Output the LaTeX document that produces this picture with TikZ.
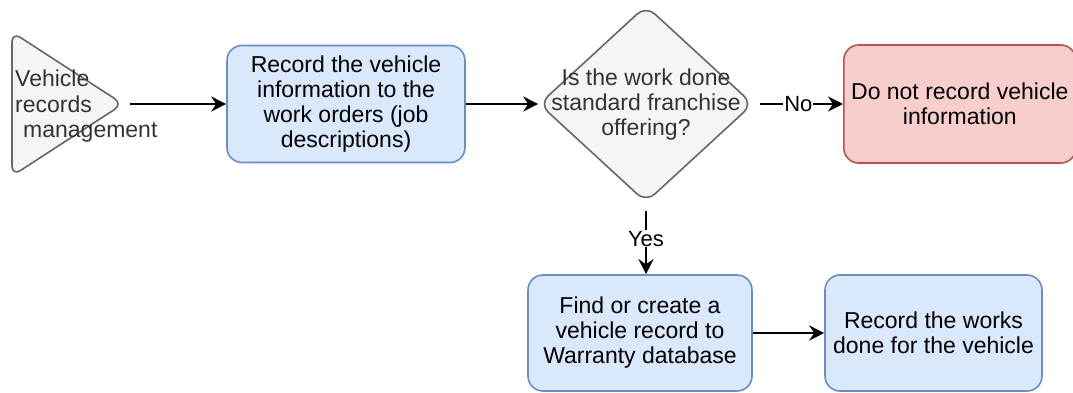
\documentclass[tikz,border=0pt]{standalone}
\usepackage{fontspec}
\setmainfont{Liberation Sans}
\usetikzlibrary{arrows.meta,shapes.geometric}

\definecolor{blueFill}{HTML}{DAE8FC}
\definecolor{blueLine}{HTML}{6C8EBF}
\definecolor{redFill}{HTML}{F8CECC}
\definecolor{redLine}{HTML}{B85450}
\definecolor{grayFill}{HTML}{F5F5F5}
\definecolor{grayLine}{HTML}{666666}
\definecolor{grayText}{HTML}{333333}

\tikzset{
  lbl/.style={font=\fontsize{23}{25}\selectfont, align=center, inner sep=0pt},
  procbox/.style={lbl, draw=blueLine, fill=blueFill, line width=1.6pt,
    rounded corners=15pt, minimum width=#1, minimum height=117pt},
  procbox/.default=238pt,
  stopbox/.style={lbl, draw=redLine, fill=redFill, line width=1.6pt,
    rounded corners=15pt, minimum width=232pt, minimum height=118pt},
  flow/.style={-{Stealth[length=15pt,width=15pt,inset=5pt]}, line width=2pt, black},
  edgelbl/.style={font=\fontsize{22}{25}\selectfont, fill=white, inner sep=1pt},
}

\begin{document}
\begin{tikzpicture}[x=1pt,y=-1pt]
  \useasboundingbox (0,0) rectangle (1073,392);

  % start marker: rounded triangle
  \draw[draw=grayLine, fill=grayFill, line width=1.6pt, rounded corners=10pt]
    (12,32) -- (123,104) -- (12,176) -- cycle;
  \coordinate (start) at (123,104);
  \node[lbl, text=grayText, anchor=west] (t1) at (15,78) {Vehicle};
  \node[lbl, text=grayText, anchor=west] (t2) at (15,104) {records};
  \node[lbl, text=grayText, anchor=west] (t3) at (23,132) {management};

  % process steps
  \node[procbox] (rec) at (346,104) {Record the vehicle\\information to the\\work orders (job\\descriptions)};

  % decision
  \node[diamond, draw=grayLine, fill=grayFill, line width=1.6pt, rounded corners=12pt,
        minimum width=214pt, minimum height=197pt, inner sep=0pt] (dec) at (646,104) {};
  \node[lbl, text=grayText] (dectext) at (646,105) {Is the work done\\standard franchise\\offering?};

  \node[stopbox, anchor=west] (no) at (843,104) {Do not record vehicle\\information};

  \node[procbox=224pt, minimum height=116pt] (find) at (640,333) {Find or create a\\vehicle record to\\Warranty database};
  \node[procbox=217pt, minimum height=116pt] (works) at (933.5,333) {Record the works\\done for the vehicle};

  % connectors
  \draw[flow, shorten <=7pt] (start) -- (rec.west);
  \draw[flow] (rec.east) -- (dec.west);
  \draw[flow, shorten <=6pt] (dec.east) -- node[edgelbl] {No} (no.west);
  \draw[flow, shorten <=8pt] (dec.south) -- node[edgelbl] {Yes} (find.north -| dec.south);
  \draw[flow] (find.east) -- (works.west);
\end{tikzpicture}
\end{document}
